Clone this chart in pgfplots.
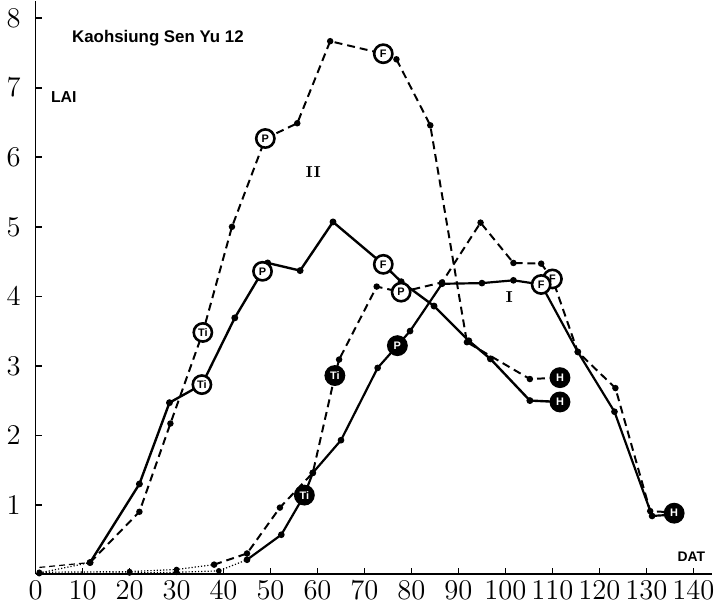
\documentclass[border=0pt]{standalone}
\usepackage{pgfplots}
\pgfplotsset{compat=1.18}
\usepackage{fontspec}
\newfontfamily\handfont{Liberation Sans}

% Leaf area index of Kaohsiung Sen Yu 12, two crops
\pgfplotstableread{
x y
11.6 0.17
22.1 1.30
28.5 2.47
35.4 2.73
42.4 3.69
48.3 4.36
49.4 4.48
56.3 4.37
63.3 5.07
74.0 4.46
77.8 4.21
84.8 3.86
92.2 3.36
96.8 3.10
105.2 2.50
111.6 2.48
}\cropIIsolid
\pgfplotstableread{
x y
11.6 0.17
22.1 0.90
28.7 2.17
35.6 3.48
41.8 5.00
48.9 6.27
55.7 6.49
62.7 7.67
74.0 7.49
76.8 7.41
84.0 6.46
91.8 3.34
105.2 2.81
111.6 2.83
}\cropIIdashed
\pgfplotstableread{
x y
45.0 0.21
52.3 0.57
57.2 1.14
59.0 1.46
65.0 1.93
72.8 2.97
77.0 3.29
79.7 3.50
86.5 4.18
95.0 4.19
101.7 4.23
107.6 4.17
115.4 3.20
123.2 2.34
131.2 0.84
135.9 0.86
}\cropIsolid
\pgfplotstableread{
x y
38.0 0.14
45.0 0.30
52.0 0.96
59.0 1.46
63.7 2.86
64.6 3.09
72.6 4.14
77.8 4.06
86.5 4.20
94.7 5.06
101.7 4.48
107.6 4.47
110.0 4.25
115.4 3.20
123.4 2.68
130.8 0.91
135.9 0.89
}\cropIdashed

\begin{document}
\begin{tikzpicture}
\begin{axis}[
  scale only axis, width=341pt, height=289pt,
  xmin=0, xmax=144, ymin=0, ymax=8.25,
  axis lines=left, axis line style={-, line width=0.9pt},
  xtick={0,10,...,140}, ytick={1,...,8},
  tick align=inside, major tick length=3pt,
  tick style={line width=0.8pt, black},
  ticklabel style={font=\fontsize{14}{16}\selectfont},
  yticklabel style={xshift=-4pt},
  clip=false,
  stage/.style={only marks, mark=*, mark size=4.6pt,
    mark options={fill=white, draw=black, line width=1.3pt, solid},
    nodes near coords, point meta=explicit symbolic,
    nodes near coords align={center},
    every node near coord/.append style={anchor=center, inner sep=0pt,
      font=\handfont\bfseries\fontsize{5.5}{5.5}\selectfont}},
  stagefill/.style={stage,
    mark options={fill=black, draw=black, line width=1.3pt, solid},
    every node near coord/.append style={text=white}},
  dotmark/.style={mark=*, mark size=1.1pt, mark options={solid}},
]
% early sparse segments near zero
\addplot[black, line width=0.6pt, densely dashed] coordinates {(0.8,0.10) (11.6,0.17)};
\addplot[black, line width=0.6pt, densely dotted] coordinates {(0.8,0.02) (11.6,0.17)};
\addplot[black, line width=0.6pt, densely dotted, dotmark] coordinates {(0.8,0.03) (20,0.04) (30,0.07) (38,0.14)};
\addplot[black, line width=0.6pt, densely dotted, dotmark] coordinates {(0.8,0.01) (20,0.02) (30,0.03) (39,0.05) (45,0.21)};

% main curves
\addplot[black, line width=1.2pt, dotmark] table {\cropIIsolid};
\addplot[black, line width=1.0pt, dash pattern=on 4pt off 2.5pt, dotmark] table {\cropIIdashed};
\addplot[black, line width=1.1pt, dotmark] table {\cropIsolid};
\addplot[black, line width=1.0pt, dash pattern=on 4pt off 2.5pt, dotmark] table {\cropIdashed};

% growth stages
\addplot[stage] table[meta=lab] {
x y lab
35.4 2.73 Ti
35.6 3.48 Ti
48.3 4.36 P
48.9 6.27 P
74.0 4.46 F
74.0 7.49 F
77.8 4.06 P
110.0 4.25 F
107.6 4.17 F
};
\addplot[stagefill] table[meta=lab] {
x y lab
57.2 1.14 Ti
63.7 2.86 Ti
77.0 3.29 P
111.6 2.48 H
111.6 2.83 H
135.9 0.88 H
};

\node[anchor=west, font=\handfont\bfseries\fontsize{8.5}{9}\selectfont] at (axis cs:6.3,7.72) {Kaohsiung Sen Yu 12};
\node[anchor=west, font=\handfont\bfseries\fontsize{8}{9}\selectfont] at (axis cs:1.8,6.86) {LAI};
\node[font=\bfseries\fontsize{8}{9}\selectfont] at (axis cs:59.1,5.79) {II};
\node[font=\bfseries\fontsize{8}{9}\selectfont] at (axis cs:100.8,3.99) {I};
\node[anchor=east, font=\handfont\bfseries\fontsize{7}{8}\selectfont] at (axis cs:144,0.25) {DAT};
\end{axis}
\end{tikzpicture}
\end{document}
